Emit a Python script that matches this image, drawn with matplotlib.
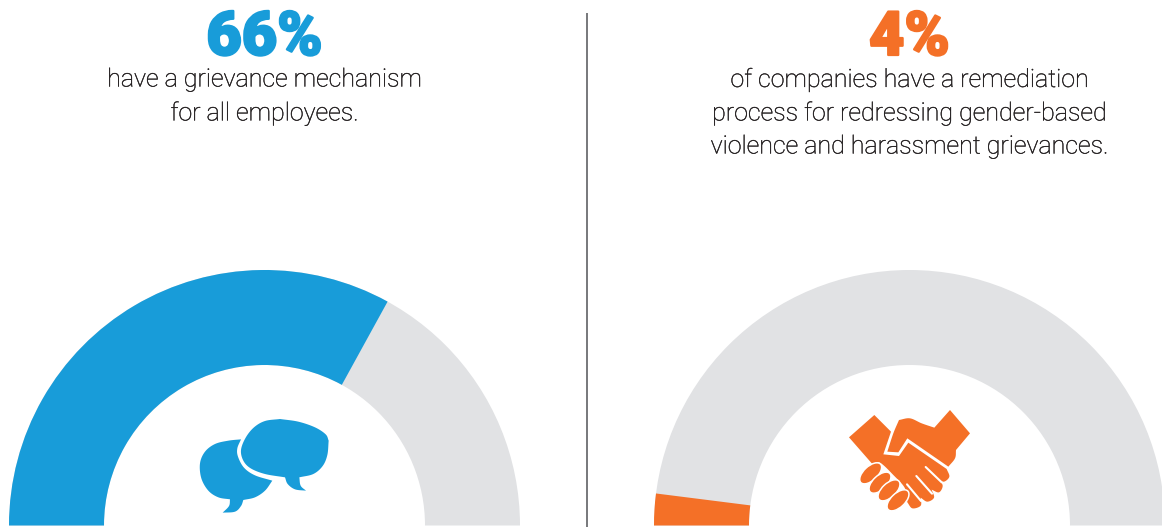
import numpy as np
import matplotlib
matplotlib.use("Agg")
import matplotlib.pyplot as plt
import matplotlib.patheffects as pe
from matplotlib.patches import Wedge, Polygon, Ellipse

# Share of companies, in percent, for each gauge
shares = [66, 4]
headlines = ["66%", "4%"]
captions = [
    ["have a grievance mechanism", "for all employees."],
    ["of companies have a remediation", "process for redressing gender-based",
     "violence and harassment grievances."],
]
accent_colors = ["#189CD9", "#F47027"]
track_color = "#E1E2E4"
text_color = "#231F20"

W, H = 1162, 527
fig = plt.figure(figsize=(W / 100, H / 100), dpi=100)
ax = fig.add_axes([0, 0, 1, 1])
ax.set_xlim(0, W)
ax.set_ylim(H, 0)
ax.axis("off")

centers_x = [264.5, 909.5]
center_y = 525.5
r_out, r_in = 255.5, 160.5
font = ["Roboto", "DejaVu Sans"]


def smooth(pts, n=10):
    """Catmull-Rom curve through an open run of points."""
    p = np.array(pts, float)
    if len(p) < 3:
        return p
    q = np.vstack([2 * p[0] - p[1], p, 2 * p[-1] - p[-2]])
    out = []
    for i in range(1, len(q) - 2):
        for t in np.linspace(0, 1, n, endpoint=False):
            a, b, c, d = q[i - 1], q[i], q[i + 1], q[i + 2]
            out.append(0.5 * (2 * b + (c - a) * t + (2 * a - 5 * b + 4 * c - d) * t**2
                              + (3 * b - a - 3 * c + d) * t**3))
    out.append(p[-1])
    return np.array(out)


def outline(runs, ox, oy, scale=1 / 3):
    """Join smoothed runs into one closed outline, placed at (ox, oy)."""
    xy = np.vstack([smooth(r) for r in runs])
    return xy * scale + [ox, oy]


# Gauges: with the y axis inverted, angles run clockwise from the left end
for cx, share, col, head, lines in zip(centers_x, shares, accent_colors, headlines, captions):
    end = 180 + 180 * share / 100
    ax.add_patch(Wedge((cx, center_y), r_out, 180, 360, width=r_out - r_in,
                       fc=track_color, ec="none"))
    ax.add_patch(Wedge((cx, center_y), r_out, 180, end, width=r_out - r_in,
                       fc=col, ec="none"))
    ax.text(cx, 38, head, color=col, ha="center", va="center", fontsize=44,
            family=font, weight="black",
            path_effects=[pe.withStroke(linewidth=1.6, foreground=col)])
    for k, line in enumerate(lines):
        ax.text(cx, 79.5 + 33.5 * k, line, color=text_color, ha="center", va="center",
                fontsize=18, family=font, weight="light",
                path_effects=[pe.withStroke(linewidth=0.25, foreground=text_color)])

# Divider between the two panels
ax.plot([587, 587], [13, 527], color="#77787B", lw=1.4, solid_capstyle="butt")

# Speech bubbles icon
blue, orange = accent_colors
bubble_left = outline([
    [(183, 118), (145, 122), (105, 132), (75, 155), (60, 190), (64, 235), (85, 272), (115, 292), (150, 298)],
    [(150, 298), (147, 318), (128, 338)],
    [(128, 338), (165, 335), (183, 318), (190, 300)],
    [(190, 300), (225, 292), (255, 272), (277, 242)],
    [(277, 242), (225, 226), (192, 203), (174, 170), (172, 145), (183, 118)],
], 180, 400)
bubble_right = outline([
    [(300, 57), (255, 63), (222, 82), (197, 113), (183, 150), (190, 182), (212, 205), (255, 222), (315, 232)],
    [(315, 232), (323, 252), (345, 268), (378, 272)],
    [(378, 272), (362, 257), (358, 232)],
    [(358, 232), (400, 222), (428, 198), (442, 165), (446, 122)],
    [(446, 122), (437, 103), (405, 82), (355, 65), (300, 57)],
], 180, 400)
for shape in (bubble_left, bubble_right):
    ax.add_patch(Polygon(shape, closed=True, fc=blue, ec="none"))

# Handshake icon
ox, oy = 830, 395
upper_hand = outline([
    [(172, 170), (190, 115), (207, 75)],
    [(207, 75), (240, 70), (275, 85), (313, 98)],
    [(313, 98), (360, 45)],
    [(360, 45), (420, 115)],
    [(420, 115), (378, 165)],
    [(378, 165), (375, 190), (355, 215)],
    [(355, 215), (232, 130)],
    [(232, 130), (205, 172)],
    [(205, 172), (172, 170)],
], ox, oy)
lower_hand = outline([
    [(133, 60), (183, 110)],
    [(183, 110), (160, 178)],
    [(160, 178), (207, 183)],
    [(207, 183), (235, 143)],
    [(235, 143), (350, 222)],
    [(350, 222), (358, 245), (342, 260), (325, 252)],
    [(325, 252), (338, 272), (327, 292), (305, 284)],
    [(305, 284), (312, 308), (292, 320), (272, 308)],
    [(272, 308), (272, 332), (247, 340), (232, 322)],
    [(232, 322), (225, 280), (190, 240), (150, 203), (127, 207)],
    [(127, 207), (57, 127)],
    [(57, 127), (133, 60)],
], ox, oy)
for shape in (upper_hand, lower_hand):
    ax.add_patch(Polygon(shape, closed=True, fc=orange, ec="none"))
for (x0, y0), (x1, y1) in [((287, 216), (335, 262)), ((259, 243), (306, 296)), ((231, 268), (273, 318))]:
    ax.plot([ox + x0 / 3, ox + x1 / 3], [oy + y0 / 3, oy + y1 / 3], color="white",
            lw=1.5, solid_capstyle="round")
for ex, ey in [(122, 235), (150, 263), (177, 286), (204, 316)]:
    ax.add_patch(Ellipse((ox + ex / 3, oy + ey / 3), 27, 14, angle=-43, fc=orange, ec="white", lw=1.1))

fig.savefig("out.png", dpi=100, facecolor="white")
